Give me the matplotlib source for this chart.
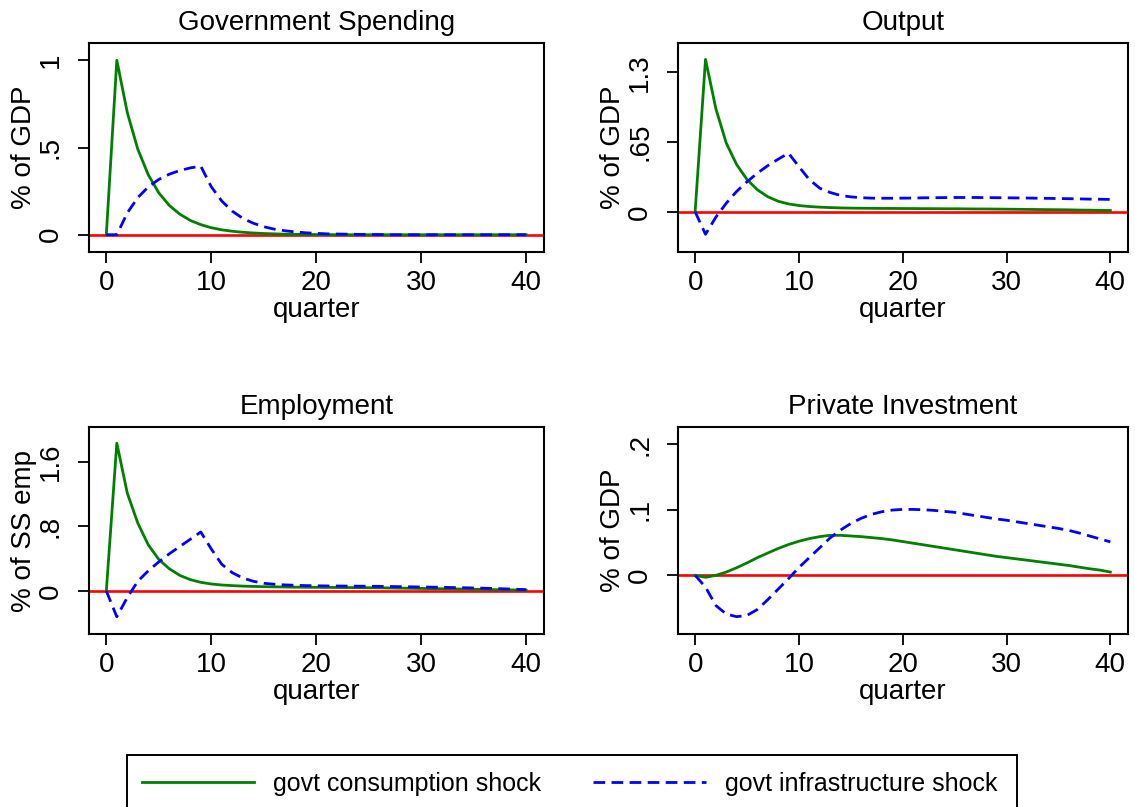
import matplotlib
matplotlib.use("Agg")
import matplotlib.pyplot as plt
from matplotlib.patches import Rectangle

plt.rcParams['font.family'] = ['Liberation Sans', 'DejaVu Sans']

quarter = list(range(41))

# government spending response (% of GDP)
gs_cons = [0, 1.0, .70, .49, .343, .240, .168, .118, .082, .058, .040, .028, .020, .014,
           .010, .007, .005, .003, .002, .002, .001, .001,
           0, 0, 0, 0, 0, 0, 0, 0, 0, 0, 0, 0, 0, 0, 0, 0, 0, 0, 0]
gs_infra = [0, 0, .125, .213, .274, .317, .347, .368, .383, .393, .275, .193, .135, .094,
            .066, .046, .032, .023, .016, .011, .008, .005, .004, .003, .002, .001, .001,
            0, 0, 0, 0, 0, 0, 0, 0, 0, 0, 0, 0, 0, 0]

# output response (% of GDP)
y_cons = [0, 1.42, .96, .64, .44, .30, .205, .14, .098, .073, .058, .049, .043, .039,
          .036, .034, .033, .032, .031, .031, .030, .030, .029, .029, .028, .028, .027,
          .026, .026, .025, .024, .023, .022, .021, .020, .019, .018, .016, .015, .013, .012]
y_infra = [0, -.21, -.05, .08, .19, .28, .36, .43, .49, .546, .42, .30, .22, .18,
           .152, .139, .131, .127, .126, .126, .127, .128, .130, .131, .132, .133, .133,
           .133, .132, .131, .130, .129, .128, .126, .125, .123, .122, .120, .118, .117, .115]

# employment response (% of steady-state employment)
n_cons = [0, 1.83, 1.21, .84, .57, .39, .275, .193, .14, .107, .086, .074, .066, .060,
          .056, .053, .051, .049, .047, .046, .045, .044, .043, .042, .041, .040, .039,
          .037, .035, .033, .031, .029, .027, .025, .023, .021, .019, .016, .014, .012, .010]
n_infra = [0, -.32, -.08, .12, .25, .36, .46, .55, .64, .73, .52, .33, .226, .16,
           .12, .095, .083, .075, .070, .066, .064, .062, .061, .060, .059, .058, .057,
           .055, .053, .051, .049, .047, .045, .042, .040, .037, .034, .030, .026, .021, .016]

# private investment response (% of GDP)
i_cons = [0, -.003, 0, .005, .0116, .019, .027, .034, .041, .047, .052, .056, .059, .061,
          .061, .060, .059, .0575, .056, .054, .0515, .049, .0465, .044, .0415, .039, .0365,
          .034, .0315, .029, .027, .025, .023, .021, .019, .017, .015, .0125, .010, .008, .005]
i_infra = [0, -.018, -.046, -.059, -.063, -.061, -.052, -.037, -.021, -.005, .012, .027, .042,
           .057, .069, .079, .087, .093, .097, .0995, .1005, .1005, .100, .099, .0975, .096,
           .0935, .091, .0885, .086, .084, .0815, .079, .0765, .074, .0715, .0685, .0645,
           .060, .0555, .051]

titles = ["Government Spending", "Output", "Employment", "Private Investment"]
ylabels = ["% of GDP", "% of GDP", "% of SS emp", "% of GDP"]
yticks = [[0, .5, 1], [0, .65, 1.3], [0, .8, 1.6], [0, .1, .2]]
yticklabels = [["0", ".5", "1"], ["0", ".65", "1.3"], ["0", ".8", "1.6"], ["0", ".1", ".2"]]
ylims = [(-.099, 1.099), (-.375, 1.573), (-.533, 2.03), (-.0894, .2261)]
cons_series = [gs_cons, y_cons, n_cons, i_cons]
infra_series = [gs_infra, y_infra, n_infra, i_infra]

W, H = 1135, 807
fig = plt.figure(figsize=(W / 100, H / 100), dpi=100)

# panel boxes in pixels: left, top, right, bottom
boxes = [(89, 43, 544, 252), (678, 43, 1128, 252),
         (89, 427, 544, 634), (678, 427, 1128, 634)]

fs = 20
for k, (l, t, r, b) in enumerate(boxes):
    ax = fig.add_axes([l / W, 1 - b / H, (r - l) / W, (b - t) / H])
    ax.axhline(0, color="#ff0000", lw=1.9, zorder=1)
    g, = ax.plot(quarter, cons_series[k], color="#008000", lw=2.0, zorder=2)
    bl, = ax.plot(quarter, infra_series[k], color="#0000ff", lw=2.0,
                  dashes=(4.2, 2.3), zorder=3)
    ax.set_xlim(-1.65, 41.7)
    ax.set_ylim(*ylims[k])
    ax.set_xticks([0, 10, 20, 30, 40])
    ax.set_yticks(yticks[k])
    ax.set_yticklabels(yticklabels[k], rotation=90, va="center")
    ax.tick_params(labelsize=fs, length=8, width=1.3)
    ax.tick_params(axis="x", pad=5)
    ax.tick_params(axis="y", pad=10)
    for s in ax.spines.values():
        s.set_linewidth(1.5)
    ax.set_title(titles[k], fontsize=fs, pad=9)
    ax.set_xlabel("quarter", fontsize=fs, labelpad=1)
    ax.set_ylabel(ylabels[k], fontsize=fs, labelpad=1)

# legend box, open at the bottom edge of the figure
fig.add_artist(Rectangle((127 / W, -0.02), 890 / W, (807 - 755) / H + 0.02,
                         transform=fig.transFigure, fill=False, lw=1.4,
                         edgecolor="black"))
fig.legend([g, bl], ["govt consumption shock", "govt infrastructure shock"],
           loc="center left", bbox_to_anchor=(119 / W, 1 - 784 / H),
           ncol=2, frameon=False, fontsize=18, handlelength=4.5,
           handletextpad=0.75, columnspacing=2.1)

fig.savefig("out.png", dpi=100)
